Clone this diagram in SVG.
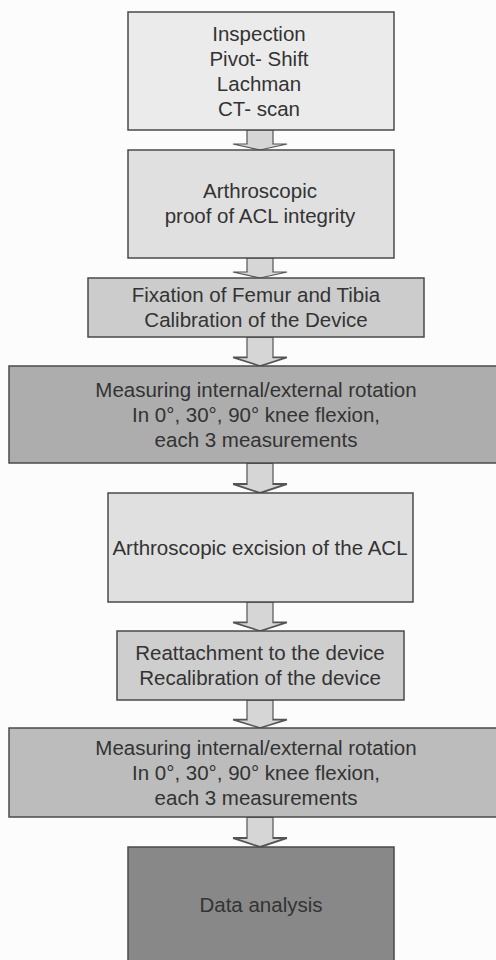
<svg xmlns="http://www.w3.org/2000/svg" width="496" height="960" viewBox="0 0 496 960">
<style>
.box{stroke:#4a4a4a;stroke-width:1.5}
.t{font-family:"Liberation Sans",Arial,sans-serif;font-size:20.5px;fill:#333;text-anchor:middle}
.arr{fill:#d6d6d6;stroke:#555;stroke-width:1.2;stroke-linejoin:miter}
</style>
<defs>
<path id="ar" d="M-13,0 L13,0 L13,14 L27,14 L0,20 L-27,14 L-13,14 Z"/>
</defs>
<rect x="0" y="0" width="496" height="960" fill="#fcfcfc"/>
<g id="connectors">
<use href="#ar" class="arr" transform="translate(260,130) scale(1,1)"/>
<use href="#ar" class="arr" transform="translate(260,258)"/>
<use href="#ar" class="arr" transform="translate(260,337) scale(1,1.45)"/>
<use href="#ar" class="arr" transform="translate(260,463) scale(1,1.5)"/>
<use href="#ar" class="arr" transform="translate(260,602) scale(1,1.45)"/>
<use href="#ar" class="arr" transform="translate(260,700) scale(1,1.4)"/>
<use href="#ar" class="arr" transform="translate(260,817) scale(1,1.5)"/>
</g>
<g id="n1"><rect class="box" x="128" y="12" width="266" height="118" fill="#ebebeb"/>
<text class="t" x="259" y="41">Inspection</text><text class="t" x="259" y="66">Pivot- Shift</text><text class="t" x="259" y="91">Lachman</text><text class="t" x="259" y="116">CT- scan</text></g>
<g id="n2"><rect class="box" x="128" y="150" width="266" height="108" fill="#e0e0e0"/>
<text class="t" x="260" y="198">Arthroscopic</text><text class="t" x="260" y="223">proof of ACL integrity</text></g>
<g id="n3"><rect class="box" x="88" y="278" width="336" height="59" fill="#cccccc"/>
<text class="t" x="256" y="302">Fixation of Femur and Tibia</text><text class="t" x="256" y="327">Calibration of the Device</text></g>
<g id="n4"><rect class="box" x="9" y="366" width="495" height="97" fill="#adadad"/>
<text class="t" x="256" y="397">Measuring internal/external rotation</text><text class="t" x="256" y="422">In 0°, 30°, 90° knee flexion,</text><text class="t" x="256" y="447">each 3 measurements</text></g>
<g id="n5"><rect class="box" x="108" y="493" width="305" height="109" fill="#e0e0e0"/>
<text class="t" x="260" y="555">Arthroscopic excision of the ACL</text></g>
<g id="n6"><rect class="box" x="117" y="631" width="287" height="69" fill="#cecece"/>
<text class="t" x="260" y="660">Reattachment to the device</text><text class="t" x="260" y="685">Recalibration of the device</text></g>
<g id="n7"><rect class="box" x="9" y="728" width="495" height="89" fill="#bcbcbc"/>
<text class="t" x="256" y="755">Measuring internal/external rotation</text><text class="t" x="256" y="780">In 0°, 30°, 90° knee flexion,</text><text class="t" x="256" y="805">each 3 measurements</text></g>
<g id="n8"><rect class="box" x="128" y="847" width="266" height="120" fill="#888888"/>
<text class="t" x="261" y="912">Data analysis</text></g>
</svg>
